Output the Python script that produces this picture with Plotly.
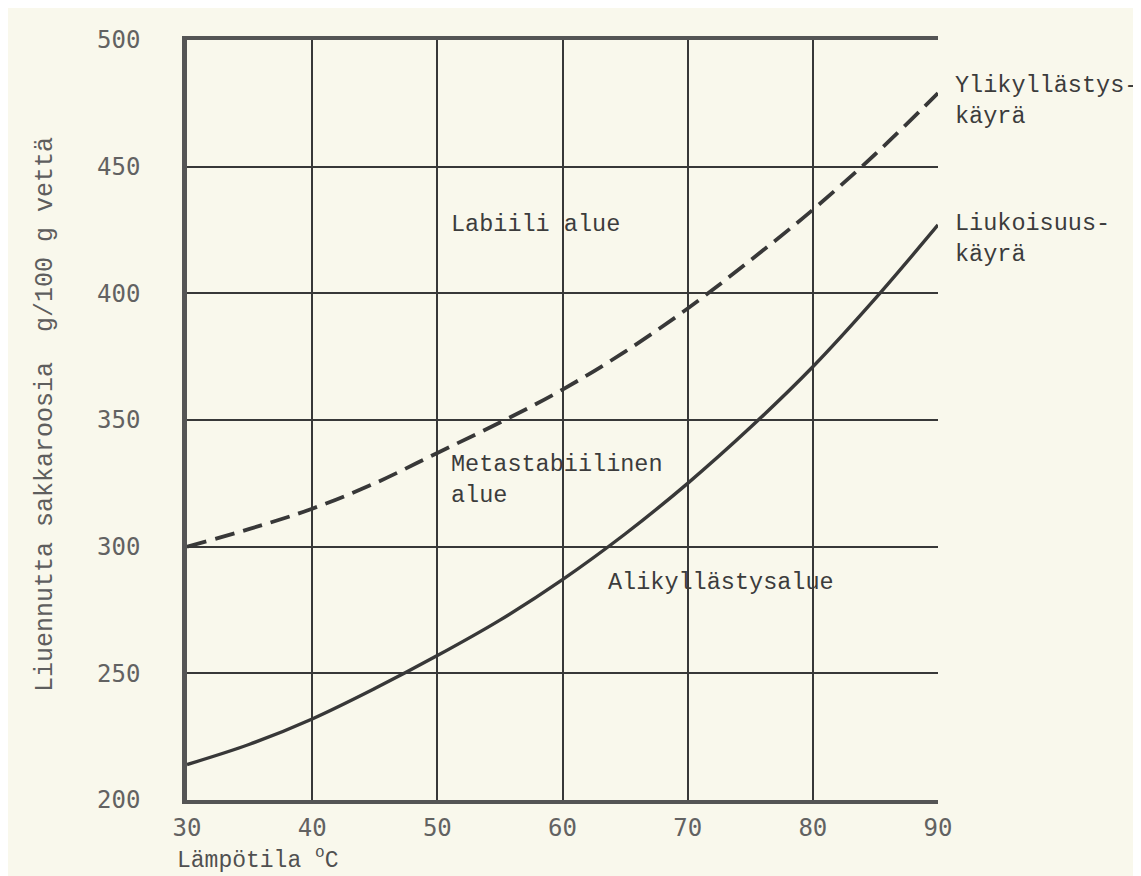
import plotly.graph_objects as go

# Data
temperature = [30, 35, 40, 45, 50, 55, 60, 65, 70, 75, 80, 85, 90]
solubility = [214, 222, 232, 244, 257, 271, 287, 305, 325, 347, 371, 398, 427]
supersaturation = [300, 307, 315, 325, 337, 349, 362, 377, 394, 413, 433, 455, 479]
x_ticks = [30, 40, 50, 60, 70, 80, 90]
y_ticks = [200, 250, 300, 350, 400, 450, 500]

BG = "#f9f8ec"
INK = "#383838"
TYPE = "Liberation Mono, Courier New, monospace"
DIG = "DejaVu Sans Mono, monospace"

fig = go.Figure()
fig.add_trace(go.Scatter(x=temperature, y=supersaturation, mode="lines",
                         line=dict(color=INK, width=3.8, dash="20px,9px", shape="spline"),
                         showlegend=False, hoverinfo="skip"))
fig.add_trace(go.Scatter(x=temperature, y=solubility, mode="lines",
                         line=dict(color=INK, width=3.4, shape="spline"),
                         showlegend=False, hoverinfo="skip"))

tf = dict(family=TYPE, size=23.5, color="#3c3c3c")
ann = [
    dict(x=50.9, y=427, xref="x", yref="y", text="Labiili alue", showarrow=False,
         xanchor="left", yanchor="middle", font=tf),
    dict(x=50.9, y=326.5, xref="x", yref="y", text="Metastabiilinen<br>alue", showarrow=False,
         xanchor="left", yanchor="middle", align="left", font=tf),
    dict(x=63.5, y=285.7, xref="x", yref="y", text="Alikyllästysalue", showarrow=False,
         xanchor="left", yanchor="middle", font=tf),
    dict(x=1.02, y=476, xref="paper", yref="y", text="Ylikyllästys-<br>käyrä", showarrow=False,
         xanchor="left", yanchor="middle", align="left", font=tf),
    dict(x=1.02, y=421.5, xref="paper", yref="y", text="Liukoisuus-<br>käyrä", showarrow=False,
         xanchor="left", yanchor="middle", align="left", font=tf),
    dict(x=0, y=0.5066, xref="paper", yref="paper", xshift=-141, textangle=-90,
         text="Liuennutta sakkaroosia  g/100 g vettä", showarrow=False,
         xanchor="center", yanchor="middle", font=dict(family=TYPE, size=25, color="#5e5e5e")),
    dict(x=0, y=0, xref="paper", yref="paper", xshift=-12, yshift=-59,
         text="Lämpötila <sup>o</sup>C", showarrow=False,
         xanchor="left", yanchor="middle", font=dict(family=TYPE, size=23, color="#505050")),
]

fig.update_layout(
    width=1141, height=876,
    margin=dict(l=179, r=211, t=32, b=84),
    paper_bgcolor=BG, plot_bgcolor=BG,
    annotations=ann,
    xaxis=dict(range=[30, 90], tickvals=x_ticks, ticktext=[str(v) for v in x_ticks],
               showgrid=True, gridcolor=INK, gridwidth=2, zeroline=False,
               showline=True, linecolor="#555555", linewidth=3.5, mirror=True,
               ticks="outside", ticklen=3, tickcolor="rgba(0,0,0,0)",
               tickfont=dict(family=DIG, size=24, color="#626262")),
    yaxis=dict(range=[200, 500], tickvals=y_ticks, ticktext=[str(v) for v in y_ticks],
               showgrid=True, gridcolor=INK, gridwidth=2, zeroline=False,
               showline=True, linecolor="#555555", linewidth=4.5,
               ticks="outside", ticklen=37, tickcolor="rgba(0,0,0,0)",
               tickfont=dict(family=DIG, size=24, color="#626262")),
)

fig.write_html("out.html")
